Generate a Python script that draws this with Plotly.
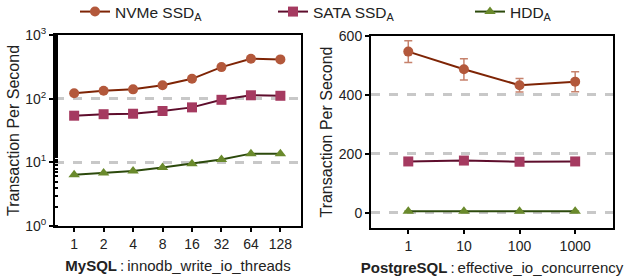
import plotly.graph_objects as go

# ---- data ----
mysql_threads = ["1", "2", "4", "8", "16", "32", "64", "128"]
mysql_nvme = [122, 133, 140, 162, 205, 313, 424, 414]
mysql_sata = [54, 57, 58, 64, 73, 96, 113, 111]
mysql_hdd = [6.4, 6.8, 7.3, 8.3, 9.5, 11.1, 13.7, 13.7]

pg_concurrency = ["1", "10", "100", "1000"]
pg_nvme = [547, 487, 433, 445]
pg_nvme_err = [37, 36, 23, 34]
pg_sata = [174, 177, 173, 174]
pg_sata_err = [4, 8, 10, 3]
pg_hdd = [5, 5, 5, 5]
pg_hdd_err = [1, 1, 1, 1]

log_tickvals = [1, 10, 100, 1000]
log_ticktext = ["10<sup>0</sup>", "10<sup>1</sup>", "10<sup>2</sup>", "10<sup>3</sup>"]

series_names = ["NVMe SSD<sub>A</sub>", "SATA SSD<sub>A</sub>", "HDD<sub>A</sub>"]

# ---- styles ----
marker_cols = ["#b3583b", "#a53a60", "#6a8a2c"]
line_cols = ["#7e2405", "#5e0d2c", "#2c4a0c"]
err_cols = ["rgba(179,88,59,0.75)", "rgba(165,58,96,0.75)", "rgba(106,138,44,0.75)"]
symbols = ["circle", "square", "triangle-up"]
sizes = [10, 10, 10]
legend_ids = ["legend", "legend2", "legend3"]
FONT = "Liberation Sans, Arial, sans-serif"
TXT = "#222"

fig = go.Figure()

left_vals = [mysql_nvme, mysql_sata, mysql_hdd]
for i in range(3):
    fig.add_trace(go.Scatter(
        x=mysql_threads, y=left_vals[i], mode="lines+markers",
        name=series_names[i], legendgroup=str(i), legend=legend_ids[i],
        line=dict(color=line_cols[i], width=2),
        marker=dict(color=marker_cols[i], symbol=symbols[i], size=sizes[i],
                    line=dict(width=0)),
        xaxis="x", yaxis="y",
    ))

right_vals = [pg_nvme, pg_sata, pg_hdd]
right_errs = [pg_nvme_err, pg_sata_err, pg_hdd_err]
for i in range(3):
    fig.add_trace(go.Scatter(
        x=pg_concurrency, y=right_vals[i], mode="lines+markers",
        name=series_names[i], legendgroup=str(i), showlegend=False,
        line=dict(color=line_cols[i], width=2),
        marker=dict(color=marker_cols[i], symbol=symbols[i], size=sizes[i],
                    line=dict(width=0)),
        error_y=dict(type="data", array=right_errs[i], visible=True,
                     color=err_cols[i], thickness=1.5, width=4),
        xaxis="x2", yaxis="y2",
    ))

axis_common = dict(
    showline=True, linecolor="black", linewidth=2, mirror=True,
    ticks="outside", ticklen=4, tickwidth=1.5, tickcolor="black",
    tickfont=dict(family=FONT, size=14, color=TXT),
    zeroline=False, automargin=False,
)

grid = dict(showgrid=True, gridcolor="#c8c8c8", gridwidth=2.5, griddash="dash")

# plot area: x 55..613, y 35..228 (pixels)
L, R, T, B = 55, 13, 35, 48
PW, PH = 626 - L - R, 276 - T - B


def px_x(p):
    return (p - L) / PW


def px_y(p):
    return (276 - B - p) / PH


def legend_at(px):
    return dict(orientation="h", x=px_x(px), xanchor="left", y=px_y(12), yanchor="middle",
                font=dict(family=FONT, size=15.5, color=TXT),
                bgcolor="rgba(0,0,0,0)", itemwidth=30)


xtitle_font = dict(family=FONT, size=15, color=TXT)
ytitle_font = dict(family=FONT, size=16, color=TXT)

fig.update_layout(
    width=626, height=276,
    margin=dict(l=L, r=R, t=T, b=B, autoexpand=False),
    paper_bgcolor="white", plot_bgcolor="white",
    font=dict(family=FONT, color=TXT),
    showlegend=True,
    legend=legend_at(75),
    legend2=legend_at(273),
    legend3=legend_at(470),
    xaxis=dict(domain=[px_x(55), px_x(301)], type="category", range=[-0.65, 7.7],
               anchor="y", showgrid=False,
               title=dict(text="<b>MySQL</b>\u2009:\u2009innodb_write_io_threads",
                          font=xtitle_font, standoff=10),
               **axis_common),
    yaxis=dict(domain=[px_y(226), px_y(35)], type="log", range=[0, 3],
               anchor="x", tickvals=log_tickvals, ticktext=log_ticktext,
               minor=dict(ticks="inside", ticklen=3, tickcolor="black", showgrid=False),
               title=dict(text="Transaction Per Second", font=ytitle_font, standoff=2),
               **grid, **axis_common),
    xaxis2=dict(domain=[px_x(371), px_x(613)], type="category", range=[-0.67, 3.68],
                anchor="y2", showgrid=False,
                title=dict(text="<b>PostgreSQL</b>\u2009:\u2009effective_io_concurrency",
                           font=xtitle_font, standoff=10),
                **axis_common),
    yaxis2=dict(domain=[px_y(228), px_y(36)], range=[-52, 600], dtick=200,
                anchor="x2",
                title=dict(text="Transaction Per Second", font=ytitle_font, standoff=2),
                **grid, **axis_common),
)

fig.write_html("out.html", config={"displayModeBar": False},
               post_script="document.body.style.margin='0px';")
